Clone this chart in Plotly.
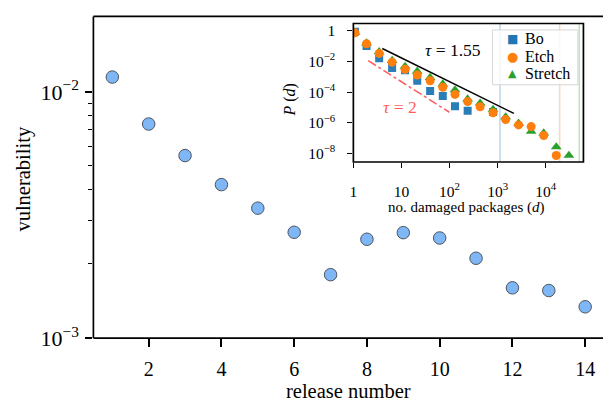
import plotly.graph_objects as go

# ---- main panel: vulnerability per release ----
release = list(range(1, 15))
vulnerability = [0.01148, 0.0074, 0.00551, 0.00420, 0.00337, 0.00269, 0.00181,
                 0.00252, 0.00268, 0.00255, 0.00211, 0.00160, 0.00156, 0.00134]

# ---- inset: distribution of damaged packages ----
d_bins = [1.08, 1.88, 3.44, 6.4, 11.9, 21.3, 39.5, 72.4, 130, 238, 433, 804,
          1470, 2730, 4990, 9100, 16600, 30400]

bo_d = [1.08, 1.88, 3.44, 6.4, 11.9, 21.3, 39.5, 72.4, 130, 238, 804]
bo_p = [0.9, 0.102, 0.0163, 0.0038, 0.0027, 5.5e-4, 1.17e-4, 5.6e-5, 1.2e-5,
        6.0e-6, 5.0e-6]

etch_d = d_bins[:17]
etch_p = [0.75, 0.145, 0.034, 0.0091, 0.0031, 1.3e-3, 5.5e-4, 2.1e-4, 7.1e-5,
          2.4e-5, 1.1e-5, 4.5e-6, 1.6e-6, 7.2e-7, 5.6e-7, 1.45e-7, 7.2e-9]

stretch_d = d_bins
stretch_p = [0.8, 0.16, 0.043, 0.0115, 0.0048, 2.3e-3, 8.9e-4, 3.4e-4, 1.4e-4,
             3.5e-5, 1.9e-5, 7.4e-6, 2.4e-6, 9.1e-7, 2.7e-7, 2.1e-7, 2.6e-8,
             7.2e-9]

# largest damage per release (vertical markers)
max_damage = {"Bo": 1120, "Etch": 19500, "Stretch": 50000}

# power-law guides: (tau, prefactor, d_start, d_end)
guide_a = (1.55, 0.607, 4.0, 2180.0)
guide_b = (2.0, 0.0474, 2.04, 99.0)

x_ticks = [2, 4, 6, 8, 10, 12, 14]
inset_x_ticks = [1, 10, 100, 1000, 10000]
inset_x_text = ["1", "10", "10<sup>2</sup>", "10<sup>3</sup>", "10<sup>4</sup>"]
inset_y_ticks = [1, 1e-2, 1e-4, 1e-6, 1e-8]
inset_y_text = ["1", "10<sup>−2</sup>", "10<sup>−4</sup>", "10<sup>−6</sup>",
                "10<sup>−8</sup>"]

series = [("Bo", "#1f77b4", "■", 12), ("Etch", "#ff7f0e", "●", 13),
          ("Stretch", "#2ca02c", "▲", 11)]
colors = {name: col for name, col, _, _ in series}

FONT = "Liberation Serif, Times New Roman, serif"
RED = "#ff5c5c"

W, H = 603, 411
main_x_range = [0.48, 14.49]
main_y_range = [-3.0, -1.694]
in_x_range = [0.0, 4.785]
in_y_range = [-8.57, 0.486]

fig = go.Figure()

fig.add_trace(go.Scatter(
    x=release, y=vulnerability, mode="markers", showlegend=False,
    marker=dict(size=12.5, color="#7eb6f6", line=dict(color="#4d5560", width=1)),
    xaxis="x", yaxis="y"))

# vertical markers in the inset
for name, rgba in [("Bo", "rgba(31,119,180,0.3)"),
                   ("Etch", "rgba(255,127,14,0.3)"),
                   ("Stretch", "rgba(44,160,44,0.3)")]:
    v = max_damage[name]
    fig.add_trace(go.Scatter(
        x=[v, v], y=[10 ** in_y_range[0], 10 ** in_y_range[1]], mode="lines",
        line=dict(color=rgba, width=1.5), showlegend=False, hoverinfo="skip",
        xaxis="x2", yaxis="y2"))

# power-law guides
for (tau, c, d0, d1), col, dash in [(guide_a, "black", "solid"),
                                     (guide_b, RED, "dashdot")]:
    fig.add_trace(go.Scatter(
        x=[d0, d1], y=[c * d0 ** (-tau), c * d1 ** (-tau)], mode="lines",
        line=dict(color=col, width=1.5, dash=dash), showlegend=False,
        xaxis="x2", yaxis="y2"))

fig.add_trace(go.Scatter(
    x=bo_d, y=bo_p, mode="markers", name="Bo", showlegend=False,
    marker=dict(symbol="square", size=8, color=colors["Bo"], opacity=0.95),
    xaxis="x2", yaxis="y2"))
fig.add_trace(go.Scatter(
    x=stretch_d, y=stretch_p, mode="markers", name="Stretch", showlegend=False,
    marker=dict(symbol="triangle-up", size=9.5, color=colors["Stretch"]),
    xaxis="x2", yaxis="y2"))
fig.add_trace(go.Scatter(
    x=etch_d, y=etch_p, mode="markers", name="Etch", showlegend=False,
    marker=dict(symbol="circle", size=9, color=colors["Etch"]),
    xaxis="x2", yaxis="y2"))

main_dom_x = [90 / W, 1.0]
main_dom_y = [(H - 349) / H, (H - 16) / H]
in_dom_x = [351.7 / W, 583.3 / W]
in_dom_y = [(H - 166.7) / H, (H - 23.3) / H]

axis_common = dict(showgrid=False, zeroline=False, showline=False,
                   ticks="outside", tickcolor="black")

fig.update_layout(
    width=W, height=H, margin=dict(l=0, r=0, t=0, b=0),
    paper_bgcolor="white", plot_bgcolor="white",
    font=dict(family=FONT, color="black"),
    showlegend=False,
    xaxis=dict(**axis_common, domain=main_dom_x, range=main_x_range,
               tickvals=x_ticks, tickwidth=1.6, ticklen=8,
               ticklabelstandoff=5, tickfont=dict(size=20), anchor="y"),
    yaxis=dict(**axis_common, domain=main_dom_y, type="log", range=main_y_range,
               tickvals=[1e-3, 1e-2],
               ticktext=["10<sup>−3</sup>", "10<sup>−2</sup>"],
               tickwidth=1.6, ticklen=7, ticklabelstandoff=2,
               tickfont=dict(size=22), anchor="x",
               minor=dict(ticks="outside", ticklen=4, tickwidth=1.2,
                          tickcolor="black",
                          tickvals=[k * 1e-3 for k in range(2, 10)])),
    xaxis2=dict(**axis_common, domain=in_dom_x, type="log", range=in_x_range,
                tickvals=inset_x_ticks, ticktext=inset_x_text,
                tickwidth=1.4, ticklen=5, ticklabelstandoff=10,
                tickfont=dict(size=15.5), anchor="y2"),
    yaxis2=dict(**axis_common, domain=in_dom_y, type="log", range=in_y_range,
                tickvals=inset_y_ticks, ticktext=inset_y_text,
                tickwidth=1.4, ticklen=5, ticklabelstandoff=9,
                tickfont=dict(size=15.5), anchor="x2"),
)

LW = 1.7
shapes = [
    # main panel spines (left, bottom, top)
    dict(type="line", xref="x domain", yref="y domain", x0=0, x1=0, y0=0, y1=1,
         line=dict(color="black", width=LW)),
    dict(type="line", xref="x domain", yref="y domain", x0=0, x1=1, y0=0, y1=0,
         line=dict(color="black", width=LW)),
    dict(type="line", xref="x domain", yref="y domain", x0=0, x1=1, y0=1, y1=1,
         line=dict(color="black", width=LW)),
    # inset frame
    dict(type="rect", xref="x2 domain", yref="y2 domain", x0=0, x1=1, y0=0, y1=1,
         line=dict(color="black", width=LW)),
    # legend box
    dict(type="rect", xref="paper", yref="paper", x0=491.7 / W, x1=577.7 / W,
         y0=(H - 86.7) / H, y1=(H - 30) / H, fillcolor="rgba(255,255,255,0.8)",
         line=dict(color="#d6d6d6", width=1), layer="above"),
]
fig.update_layout(shapes=shapes)

annotations = [
    dict(text="release number", x=346.5 / W, y=(H - 404) / H, xref="paper",
         yref="paper", showarrow=False, font=dict(size=20.5),
         xanchor="center", yanchor="middle"),
    dict(text="vulnerability", x=20 / W, y=(H - 184) / H, xref="paper",
         yref="paper", showarrow=False, font=dict(size=20.5), textangle=-90,
         xanchor="center", yanchor="middle"),
    dict(text="no. damaged packages (<i>d</i>)", x=466 / W, y=(H - 214) / H,
         xref="paper", yref="paper", showarrow=False, font=dict(size=15),
         xanchor="center", yanchor="middle"),
    dict(text="<i>P</i> (<i>d</i>)", x=288 / W, y=(H - 103) / H, xref="paper",
         yref="paper", showarrow=False, font=dict(size=16), textangle=-90,
         xanchor="center", yanchor="middle"),
    dict(text="<i>τ</i> = %.2f" % guide_a[0], x=2.07, y=-1.26, xref="x2",
         yref="y2", showarrow=False, font=dict(size=17.5),
         xanchor="center", yanchor="middle"),
    dict(text="<i>τ</i> = %g" % guide_b[0], x=0.977, y=-4.99, xref="x2",
         yref="y2", showarrow=False, font=dict(size=17.5, color=RED),
         xanchor="center", yanchor="middle"),
]

# legend entries
row_y = [39, 57.3, 75]
for (name, col, glyph, gsize), yy in zip(series, row_y):
    annotations.append(dict(
        text=glyph, x=511.7 / W, y=(H - yy) / H, xref="paper", yref="paper",
        showarrow=False, font=dict(size=gsize, color=col, family="DejaVu Sans"),
        xanchor="center", yanchor="middle"))
    annotations.append(dict(
        text=name, x=522.5 / W, y=(H - yy) / H, xref="paper", yref="paper",
        showarrow=False, font=dict(size=16), xanchor="left", yanchor="middle"))

fig.update_layout(annotations=annotations)

fig.write_html("out.html")
